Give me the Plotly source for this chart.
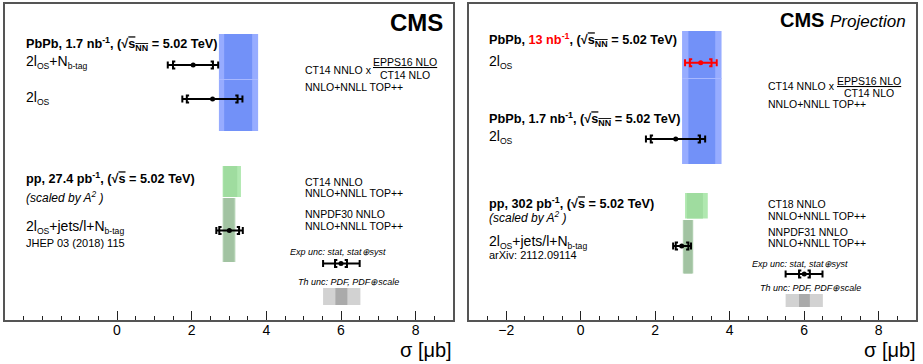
import plotly.graph_objects as go

W, H = 923, 364

# ---------------- data (sigma in microbarn) ----------------
# Left panel (published results): PbPb 1.7 nb^-1, pp 27.4 pb^-1, legend sample
left_meas_names = ["PbPb 2lOS+Nbtag", "PbPb 2lOS", "pp 2lOS+jets/l+Nbtag", "Exp unc legend"]
left_central = [2.04, 2.56, 3.01, 6.00]
left_tot_lo = [1.36, 1.75, 2.66, 5.52]
left_tot_hi = [2.71, 3.36, 3.37, 6.50]
left_stat_lo = [1.50, 1.87, 2.74, 5.84]
left_stat_hi = [2.57, 3.23, 3.27, 6.16]

left_band_names = ["CT14 NNLO x EPPS16/CT14", "CT14 NNLO", "NNPDF30 NNLO", "Th unc legend"]
left_band_lo = [2.73, 2.83, 2.83, 5.52]
left_band_hi = [3.78, 3.32, 3.17, 6.52]
left_band_in_lo = [2.87, 2.85, 2.86, 5.85]
left_band_in_hi = [3.62, 3.22, 3.13, 6.17]

# Right panel (projection): PbPb 13 nb^-1, PbPb 1.7 nb^-1, pp 302 pb^-1, legend sample
right_meas_names = ["PbPb 13 nb 2lOS", "PbPb 1.7 nb 2lOS", "pp 2lOS+jets/l+Nbtag", "Exp unc legend"]
right_central = [3.22, 2.55, 2.71, 6.00]
right_tot_lo = [2.80, 1.75, 2.48, 5.50]
right_tot_hi = [3.65, 3.34, 2.96, 6.49]
right_stat_lo = [2.93, 1.88, 2.55, 5.86]
right_stat_hi = [3.51, 3.20, 2.89, 6.15]

right_band_names = ["CT14 NNLO x EPPS16/CT14", "CT18 NNLO", "NNPDF31 NNLO", "Th unc legend"]
right_band_lo = [2.72, 2.80, 2.74, 5.50]
right_band_hi = [3.78, 3.41, 3.02, 6.50]
right_band_in_lo = [2.89, 2.85, 2.77, 5.86]
right_band_in_hi = [3.61, 3.28, 2.99, 6.15]

left_tickvals = [0, 2, 4, 6, 8]
right_tickvals = [-2, 0, 2, 4, 6, 8]
x_range = [-3, 9]

# ---------------- layout constants (pixels from top) ----------------
FONT = "Liberation Sans, Arial, Helvetica, sans-serif"
left_meas_y = [65, 99, 230.5, 263.5]
left_meas_col = ["black", "black", "black", "black"]
left_band_y = [(34, 131), (166, 197), (198, 262), (288, 305)]
right_meas_y = [62.7, 139, 246, 274]
right_meas_col = ["#ff0000", "black", "black", "black"]
right_band_y = [(31, 164), (193, 218.5), (220, 273.5), (294, 307)]
band_cols = [("#97acff", "#7291f8"), ("#b0e8b0", "#9fdc9f"),
             ("#b3d2b3", "#a2c3a2"), ("#d2d2d2", "#aaaaaa")]
seam_left, seam_right = 79.5, 78.5

L_DOM = [5 / W, 453 / W]
R_DOM = [469 / W, 916 / W]
Y_DOM = [(H - 320) / H, (H - 4) / H]
PXU = (453 - 5) / (x_range[1] - x_range[0])

fig = go.Figure()
shapes = []


def add_panel(xa, ya, xref, yref, cen, tlo, thi, slo, shi, ys, cols,
              blo, bhi, bilo, bihi, bys, seam):
    for i in range(len(blo)):
        y0, y1 = bys[i]
        oc, ic = band_cols[i]
        shapes.append(dict(type="rect", xref=xref, yref=yref, x0=blo[i], x1=bhi[i],
                           y0=y0, y1=y1, fillcolor=oc, line=dict(width=0), layer="below"))
        shapes.append(dict(type="rect", xref=xref, yref=yref, x0=bilo[i], x1=bihi[i],
                           y0=y0, y1=y1, fillcolor=ic, line=dict(width=0), layer="below"))
    shapes.append(dict(type="line", xref=xref, yref=yref, x0=blo[0], x1=bhi[0],
                       y0=seam, y1=seam, line=dict(color="#a8b8ff", width=1), layer="below"))
    d = 2.3 / PXU
    h = 3.5
    for i in range(len(cen)):
        c, y, col = cen[i], ys[i], cols[i]
        fig.add_trace(go.Scatter(
            x=[c], y=[y], xaxis=xa, yaxis=ya, mode="markers",
            marker=dict(color=col, size=5),
            error_x=dict(type="data", symmetric=False, array=[thi[i] - c],
                         arrayminus=[c - tlo[i]], thickness=2, width=3.5, color=col),
            showlegend=False, hoverinfo="skip"))
        for x0, s in ((slo[i], 1), (shi[i], -1)):
            fig.add_trace(go.Scatter(
                x=[x0 + s * d, x0, x0, x0 + s * d], y=[y - h, y - h, y + h, y + h],
                xaxis=xa, yaxis=ya, mode="lines", line=dict(color=col, width=2),
                showlegend=False, hoverinfo="skip"))


add_panel("x", "y", "x", "y", left_central, left_tot_lo, left_tot_hi, left_stat_lo,
          left_stat_hi, left_meas_y, left_meas_col, left_band_lo, left_band_hi,
          left_band_in_lo, left_band_in_hi, left_band_y, seam_left)
add_panel("x2", "y2", "x2", "y2", right_central, right_tot_lo, right_tot_hi, right_stat_lo,
          right_stat_hi, right_meas_y, right_meas_col, right_band_lo, right_band_hi,
          right_band_in_lo, right_band_in_hi, right_band_y, seam_right)

anns = []


def ann(text, x, y, size, xanchor="left", color="black"):
    anns.append(dict(text=text, x=x / W, y=1 - y / H, xref="paper", yref="paper",
                     xanchor=xanchor, yanchor="middle", showarrow=False,
                     font=dict(family=FONT, size=size, color=color), borderpad=0))


SQ_NN = '√<span style="text-decoration:overline">s<sub>NN</sub></span>'
SQ = '√<span style="text-decoration:overline">s</span>'


def sub(t):
    return '<sub><span style="font-size:8.6px">' + t + '</span></sub>'


L2OS = "2l" + sub("OS")
L2OS_B = "2l" + sub("OS") + "+N" + sub("b-tag")
L2OS_J = "2l" + sub("OS") + "+jets/l+N" + sub("b-tag")

# left panel texts
ann("<b>CMS</b>", 444, 22, 24, "right")
ann("<b>PbPb, 1.7 nb<sup>-1</sup>, (" + SQ_NN + " = 5.02 TeV)</b>", 25, 44, 12.7)
ann(L2OS_B, 25, 62, 14)
ann(L2OS, 25, 98, 14)
ann("CT14 NNLO x", 304, 70.5, 10.5)
ann("<u>EPPS16 NLO</u>", 405, 62.3, 10.5, "center")
ann("CT14 NLO", 405, 75, 10.5, "center")
ann("NNLO+NNLL TOP++", 304, 87.3, 10.5)
ann("<b>pp, 27.4 pb<sup>-1</sup>, (" + SQ + " = 5.02 TeV)</b>", 25, 177.7, 12.7)
ann("<i>(scaled by A<sup>2</sup> )</i>", 25, 196.7, 12)
ann(L2OS_J, 25, 226.7, 14)
ann("JHEP 03 (2018) 115", 25, 242.7, 11)
ann("CT14 NNLO", 304, 181.7, 10.5)
ann("NNLO+NNLL TOP++", 304, 192.7, 10.5)
ann("NNPDF30 NNLO", 304, 214.3, 10.5)
ann("NNLO+NNLL TOP++", 304, 226, 10.5)
ann("<i>Exp unc: stat, stat⊕syst</i>", 337.5, 251.7, 9, "center")
ann("<i>Th unc: PDF, PDF⊕scale</i>", 348, 282.3, 9, "center")
ann("σ [μb]", 453, 350, 20, "right")

# right panel texts
ann('<b>CMS</b> <i><span style="font-size:17px">Projection</span></i>', 907, 20, 20, "right")
ann('<b>PbPb, <span style="color:#ff0000">13 nb<sup>-1</sup></span>, (' + SQ_NN + " = 5.02 TeV)</b>",
    488, 40, 12.7)
ann(L2OS, 488, 62, 14)
ann("CT14 NNLO x", 767, 86, 10.5)
ann("<u>EPPS16 NLO</u>", 869, 81, 10.5, "center")
ann("CT14 NLO", 869, 92.7, 10.5, "center")
ann("NNLO+NNLL TOP++", 767, 104.3, 10.5)
ann("<b>PbPb, 1.7 nb<sup>-1</sup>, (" + SQ_NN + " = 5.02 TeV)</b>", 488, 119.3, 12.7)
ann(L2OS, 488, 136.7, 14)
ann("<b>pp, 302 pb<sup>-1</sup>, (" + SQ + " = 5.02 TeV)</b>", 488, 202.7, 12.7)
ann("<i>(scaled by A<sup>2</sup> )</i>", 488, 217.3, 12)
ann(L2OS_J, 488, 242.3, 14)
ann("arXiv: 2112.09114", 488, 255, 11)
ann("CT18 NNLO", 767, 204, 10.5)
ann("NNLO+NNLL TOP++", 767, 216, 10.5)
ann("NNPDF31 NNLO", 767, 231.7, 10.5)
ann("NNLO+NNLL TOP++", 767, 243.3, 10.5)
ann("<i>Exp unc: stat, stat⊕syst</i>", 799.5, 264, 9, "center")
ann("<i>Th unc: PDF, PDF⊕scale</i>", 810, 287.7, 9, "center")
ann("σ [μb]", 917, 350, 20, "right")


def xaxis(dom, anchor, tickvals):
    return dict(domain=dom, anchor=anchor, range=x_range, tickmode="array",
                tickvals=tickvals, ticks="inside", ticklen=9, tickwidth=1, tickcolor="#222",
                showline=True, linecolor="#555", linewidth=1.5, mirror=True,
                showgrid=False, zeroline=False, ticklabelstandoff=-4,
                tickfont=dict(family=FONT, size=14, color="black"),
                minor=dict(tickmode="linear", tick0=0, dtick=0.5, ticks="inside",
                           ticklen=4.5, tickwidth=1, tickcolor="#222", showgrid=False))


def yaxis(anchor):
    return dict(domain=Y_DOM, anchor=anchor, range=[320, 4], showticklabels=False,
                ticks="", showline=True, linecolor="#555", linewidth=1.5, mirror=True,
                showgrid=False, zeroline=False)


fig.update_layout(
    width=W, height=H, margin=dict(l=0, r=0, t=0, b=0),
    paper_bgcolor="white", plot_bgcolor="white",
    xaxis=xaxis(L_DOM, "y", left_tickvals),
    yaxis=yaxis("x"),
    xaxis2=xaxis(R_DOM, "y2", right_tickvals),
    yaxis2=yaxis("x2"),
    shapes=shapes, annotations=anns, showlegend=False,
)

fig.write_html("out.html", config={"displayModeBar": False},
               post_script="document.body.style.margin='0px';document.body.style.overflow='hidden';")
